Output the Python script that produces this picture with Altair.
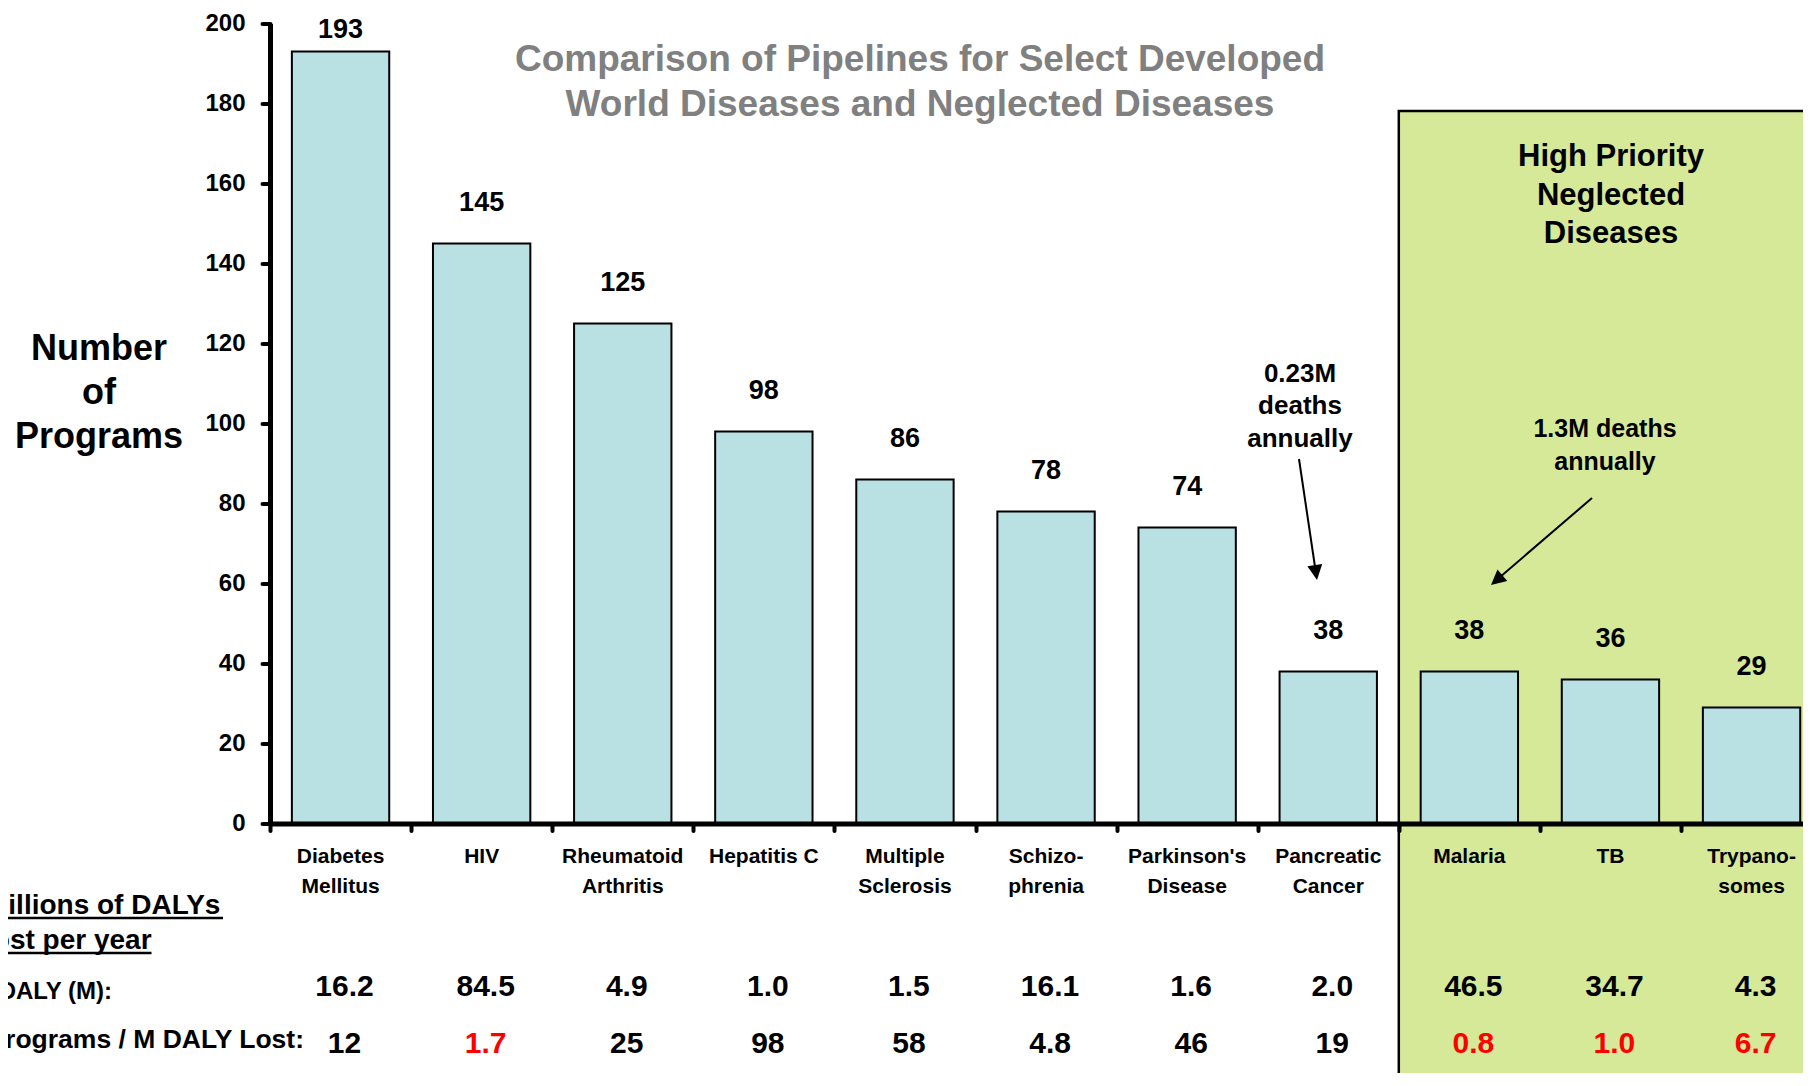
import altair as alt
import pandas as pd

# ---------------- data ----------------
categories = [["Diabetes", "Mellitus"], ["HIV"], ["Rheumatoid", "Arthritis"], ["Hepatitis C"],
              ["Multiple", "Sclerosis"], ["Schizo-", "phrenia"], ["Parkinson's", "Disease"],
              ["Pancreatic", "Cancer"], ["Malaria"], ["TB"], ["Trypano-", "somes"]]
programs = [193, 145, 125, 98, 86, 78, 74, 38, 38, 36, 29]
daly_m = ["16.2", "84.5", "4.9", "1.0", "1.5", "16.1", "1.6", "2.0", "46.5", "34.7", "4.3"]
programs_per_daly = ["12", "1.7", "25", "98", "58", "4.8", "46", "19", "0.8", "1.0", "6.7"]
highlight = [False, True, False, False, False, False, False, False, True, True, True]
y_ticks = [0, 20, 40, 60, 80, 100, 120, 140, 160, 180, 200]
neglected_start = 8

title_lines = ["Comparison of Pipelines for Select Developed", "World Diseases and Neglected Diseases"]
box_lines = ["High Priority", "Neglected", "Diseases"]
note_malaria = ["1.3M deaths", "annually"]
note_pancreatic = ["0.23M", "deaths", "annually"]
y_title = ["Number", "of", "Programs"]

# ---------------- styling / geometry ----------------
FONT = "Liberation Sans"
BLUE = "#B9E0E3"
GREEN = "#D5E999"
GRAY = "#808080"
RED = "#FF0000"
W, H = 1533, 800
BAND = 141.1
XMAX = W / BAND

df = pd.DataFrame({
    "label": categories,
    "programs": programs,
    "daly": daly_m,
    "per": programs_per_daly,
    "color": [RED if h else "black" for h in highlight],
})
df["pos"] = df.index + 0.5
df["lo"] = df["pos"] - 0.345
df["hi"] = df["pos"] + 0.345

one = pd.DataFrame({"k": [0]})

xscale = alt.Scale(domain=[0, XMAX], nice=False, zero=False)
yscale = alt.Scale(domain=[0, 200], nice=False)
xaxis = alt.Axis(values=list(range(len(categories))), labels=False, title=None, grid=False,
                 tickSize=7, tickWidth=4, tickColor="black", tickCap="round",
                 domainWidth=5, domainColor="black", zindex=2)
yaxis = alt.Axis(values=y_ticks, title=None, grid=False, tickSize=8, tickWidth=4,
                 tickColor="black", tickCap="round", domainWidth=5, domainColor="black",
                 labelFont=FONT, labelFontSize=24, labelFontWeight="bold", labelColor="black",
                 labelPadding=17, zindex=2)


def X(field):
    return alt.X(field, type="quantitative", scale=xscale, axis=xaxis)


def Y(field):
    return alt.Y(field, type="quantitative", scale=yscale, axis=yaxis)


def txt(lines, x, y, size, color="black", lh=None, align="center", baseline="middle"):
    props = dict(text=lines, font=FONT, fontSize=size, fontWeight="bold", color=color,
                 align=align, baseline=baseline)
    if lh is not None:
        props["lineHeight"] = lh
    return alt.Chart(one).mark_text(**props).encode(x=alt.value(x), y=alt.value(y))


box = alt.Chart(one).mark_rect(fill=GREEN, stroke="black", strokeWidth=2.5).encode(
    x=alt.X(datum=neglected_start, type="quantitative", scale=xscale, axis=xaxis),
    x2=alt.value(W + 30),
    y=alt.value(87.5),
    y2=alt.value(H + 400),
)

bars = alt.Chart(df).mark_rect(fill=BLUE, stroke="black", strokeWidth=2).encode(
    x=X("lo"), x2="hi", y=Y("programs"), y2=alt.Y2(datum=0)
)

val_labels = alt.Chart(df.iloc[1:]).mark_text(
    font=FONT, fontSize=27, fontWeight="bold", color="black", dy=-41, baseline="middle"
).encode(x=X("pos"), y=Y("programs"), text="programs:Q")

val_top = alt.Chart(df.iloc[:1]).mark_text(
    font=FONT, fontSize=27, fontWeight="bold", color="black", dy=-22, baseline="middle"
).encode(x=X("pos"), y=Y("programs"), text="programs:Q")

cat_labels = alt.Chart(df).mark_text(
    font=FONT, fontSize=21, fontWeight="bold", color="black", baseline="alphabetic", lineHeight=30
).encode(x=X("pos"), y=alt.value(H + 39.5), text="label:N")

daly_row = alt.Chart(df).mark_text(
    font=FONT, fontSize=30, fontWeight="bold", color="black", baseline="alphabetic", dx=4
).encode(x=X("pos"), y=alt.value(H + 172), text="daly:N")

per_row = alt.Chart(df).mark_text(
    font=FONT, fontSize=30, fontWeight="bold", baseline="alphabetic", dx=4
).encode(x=X("pos"), y=alt.value(H + 229), text="per:N", color=alt.Color("color:N", scale=None))

title = txt(title_lines, 650, 36.5, 37, color=GRAY, lh=45)
box_title = txt(box_lines, 1341, 133.5, 31, lh=38.5)
malaria_note = txt(note_malaria, 1335, 405, 25, lh=33)
pancreatic_note = txt(note_pancreatic, 1030, 350, 26, lh=32.5)
ytitle = txt(y_title, -171, 325.5, 36, lh=44)

row_head1 = txt("Millions of DALYs", -285, 890.5, 28, align="left", baseline="alphabetic")
row_head2 = txt("lost per year", -285, 925.5, 28, align="left", baseline="alphabetic")
row_daly = txt("DALY (M):", -158, 975, 24, align="right", baseline="alphabetic")
row_per = txt("Programs / M DALY Lost:", 34, 1024.5, 26.5, align="right", baseline="alphabetic")

ul1 = alt.Chart(one).mark_rule(color="black", strokeWidth=2.5).encode(
    x=alt.value(-285), x2=alt.value(-47), y=alt.value(894.5))
ul2 = alt.Chart(one).mark_rule(color="black", strokeWidth=2.5).encode(
    x=alt.value(-285), x2=alt.value(-118.5), y=alt.value(929.5))

ARROW = "M0,0 L-1,-2 L1,-2 Z"
arrow1 = alt.Chart(one).mark_rule(color="black", strokeWidth=2).encode(
    x=alt.value(1029), x2=alt.value(1046), y=alt.value(435.5), y2=alt.value(550))
head1 = alt.Chart(one).mark_point(shape=ARROW, filled=True, size=225, angle=351.5,
                                  color="black", opacity=1).encode(
    x=alt.value(1047), y=alt.value(556.5))
arrow2 = alt.Chart(one).mark_rule(color="black", strokeWidth=2).encode(
    x=alt.value(1322), x2=alt.value(1226), y=alt.value(474.5), y2=alt.value(557))
head2 = alt.Chart(one).mark_point(shape=ARROW, filled=True, size=225, angle=49.3,
                                  color="black", opacity=1).encode(
    x=alt.value(1221), y=alt.value(561.5))

chart = alt.layer(
    box, bars, val_labels, val_top, cat_labels, daly_row, per_row,
    title, box_title, malaria_note, pancreatic_note, ytitle,
    row_head1, row_head2, row_daly, row_per, ul1, ul2,
    arrow1, head1, arrow2, head2,
).properties(
    width=W, height=H,
    padding={"left": 262, "top": 15.5, "right": 0, "bottom": 249},
    autosize=alt.AutoSizeParams(type="none"),
    background="white",
).configure_view(stroke=None)

chart.save("out.html", embed_options={"renderer": "svg", "actions": False})
